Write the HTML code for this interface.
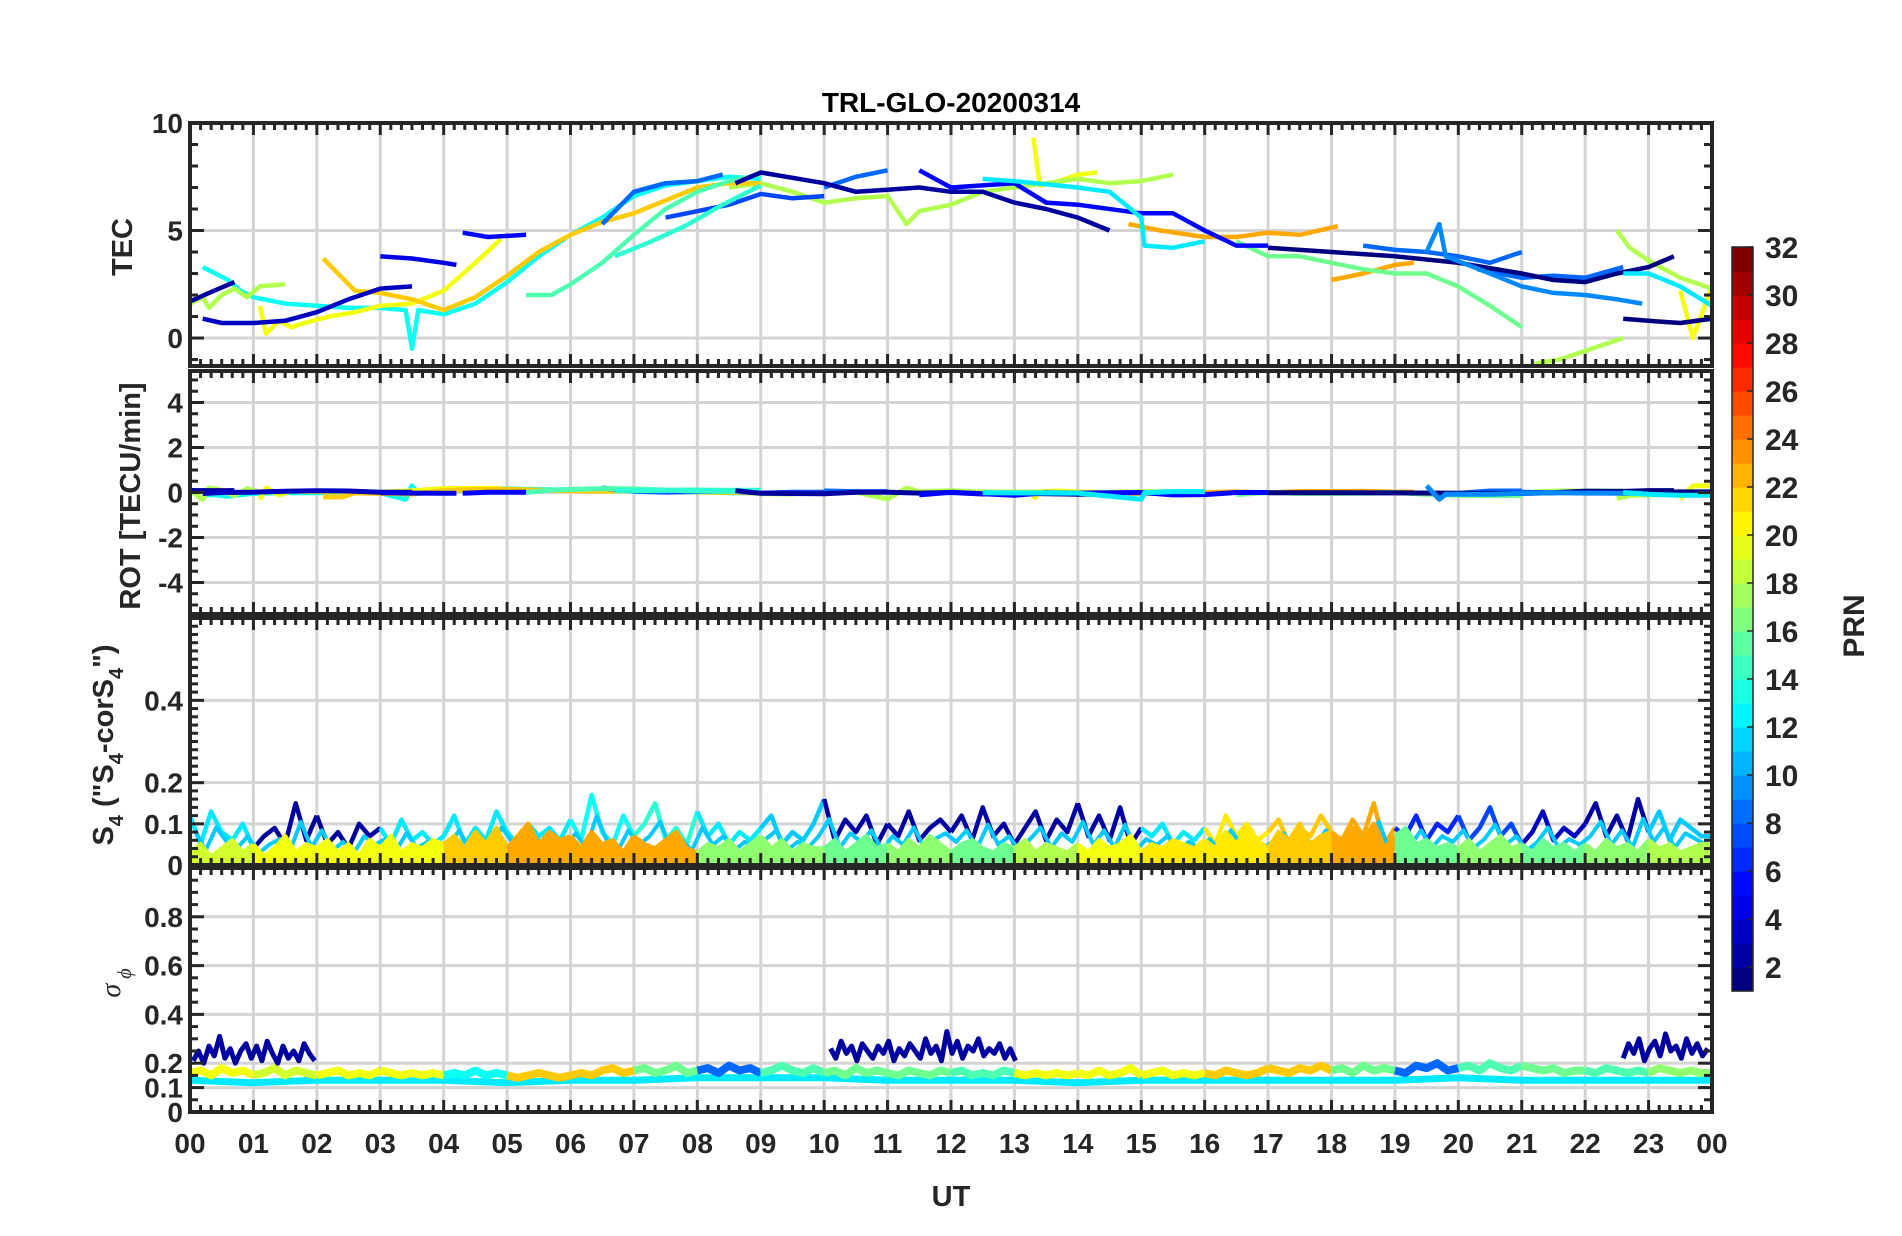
<!DOCTYPE html>
<html><head><meta charset="utf-8">
<style>
html,body{margin:0;padding:0;background:#fff;}
svg{display:block;font-family:"Liberation Sans",Arial,sans-serif;}
</style></head>
<body>
<svg id="fig" width="1902" height="1236" viewBox="0 0 1902 1236" xmlns="http://www.w3.org/2000/svg">
<rect x="0" y="0" width="1902" height="1236" fill="#fff"/>
<text x="951" y="112" text-anchor="middle" font-size="28" font-weight="bold" fill="#000">TRL-GLO-20200314</text>
<text transform="translate(132,247) rotate(-90)" text-anchor="middle" font-size="29" font-weight="bold" fill="#262626">TEC</text>
<text transform="translate(140,496) rotate(-90)" text-anchor="middle" font-size="29" font-weight="bold" fill="#262626">ROT [TECU/min]</text>
<text transform="translate(113,745) rotate(-90)" text-anchor="middle" font-size="29" font-weight="bold" fill="#262626">S<tspan font-size="20" dy="10">4</tspan><tspan dy="-10"> ("S</tspan><tspan font-size="20" dy="10">4</tspan><tspan dy="-10">-corS</tspan><tspan font-size="20" dy="10">4</tspan><tspan dy="-10">")</tspan></text>
<text transform="translate(120,983) rotate(-90)" text-anchor="middle" font-size="28" font-style="italic" font-family="Liberation Serif, serif" fill="#262626">σ<tspan font-size="20" dy="11"> ϕ</tspan></text>
<text x="951" y="1206" text-anchor="middle" font-size="29" font-weight="bold" fill="#262626">UT</text>
<text transform="translate(1864,626) rotate(-90)" text-anchor="middle" font-size="30" font-weight="bold" fill="#262626">PRN</text>
<g id="layer"></g>
</svg>
<script>
// ---------- data ----------
const hourTicks = ["00","01","02","03","04","05","06","07","08","09","10","11","12","13","14","15","16","17","18","19","20","21","22","23","00"];
const tecTicks = [0,5,10];
const rotTicks = [-4,-2,0,2,4];
const s4Ticks = [0,0.1,0.2,0.4];
const sigTicks = [0,0.1,0.2,0.4,0.6,0.8];
const cbTicks = [2,4,6,8,10,12,14,16,18,20,22,24,26,28,30,32];

// TEC tracks: PRN and [hour, TEC] pairs
const tecPrn = [13,20,20,20,18,18,18,18,22,23,23,8,8,8,8,7,15,14,16,2,2,3,4,5,5,12,1,1,9,12];
const tecPts = [
 [[0.2,3.3],[0.4,3.0],[0.6,2.7],[0.8,2.2],[1,1.9],[1.5,1.6],[2,1.5],[2.5,1.4],[3,1.4],[3.4,1.3],[3.5,-0.5],[3.6,1.3],[4,1.1],[4.5,1.6],[5,2.6],[5.5,3.8],[6,4.8],[6.5,5.6],[7,6.6],[7.5,7.1],[8,7.3],[8.5,7.5],[9,7.4]],
 [[1.1,1.5],[1.2,0.2],[1.4,0.8],[1.6,0.5],[1.8,0.7],[2.2,1.0],[2.6,1.2],[3,1.5],[3.5,1.6],[4,2.2],[4.5,3.5],[4.9,4.6]],
 [[13.3,9.3],[13.4,7.1],[13.7,7.3],[14,7.6],[14.3,7.7]],
 [[23.5,2.2],[23.7,0.0],[23.85,1.2],[24,2.5]],
 [[0,1.6],[0.2,1.9],[0.3,1.4],[0.5,2.0],[0.7,2.3],[0.9,1.9],[1.1,2.4],[1.5,2.5]],
 [[8.5,7.0],[9,7.2],[9.5,6.8],[10,6.3],[10.5,6.5],[11,6.6],[11.3,5.3],[11.5,5.9],[12,6.2],[12.5,6.8],[13,7.0],[13.5,7.2],[14,7.4],[14.5,7.2],[15,7.3],[15.5,7.6]],
 [[22.5,5.0],[22.7,4.2],[23,3.6],[23.5,2.8],[24,2.3]],
 [[21.2,-1.2],[21.6,-1.0],[22,-0.6],[22.6,0.0]],
 [[2.1,3.7],[2.4,2.8],[2.6,2.2],[3,2.1],[3.5,1.8],[4,1.3],[4.5,1.9],[5,2.9],[5.5,4.0],[6,4.8],[6.5,5.4],[7,5.8],[7.5,6.4],[8,7.0],[8.5,7.2],[9,7.2]],
 [[14.8,5.3],[15.3,5.0],[16,4.7],[16.5,4.7],[17,4.9],[17.5,4.8],[18.1,5.2]],
 [[18,2.7],[18.5,3.0],[19,3.4],[19.3,3.5]],
 [[6.5,5.3],[7,6.8],[7.5,7.2],[8,7.3],[8.4,7.6]],
 [[10,7.0],[10.5,7.5],[11,7.8]],
 [[18.5,4.3],[19,4.1],[19.5,4.0],[20,3.8],[20.5,3.5],[21,4.0]],
 [[20.3,3.2],[21,2.8],[21.5,2.9],[22,2.8],[22.6,3.3]],
 [[7.5,5.6],[8,5.9],[8.5,6.2],[9,6.7],[9.5,6.5],[10,6.6]],
 [[5.3,2.0],[5.7,2.0],[6,2.5],[6.5,3.5],[7,4.8],[7.5,6.0],[8,6.8],[8.5,7.3],[9,7.6]],
 [[6.7,3.8],[7.2,4.4],[7.8,5.2],[8.4,6.2],[9,7.1]],
 [[16.5,4.5],[17,3.8],[17.5,3.8],[18,3.5],[18.5,3.2],[19,3.0],[19.5,3.0],[20,2.4],[20.5,1.5],[21,0.5]],
 [[0,1.7],[0.3,2.1],[0.7,2.6]],
 [[8.6,7.2],[9,7.7],[10,7.2],[10.5,6.8],[11,6.9],[11.5,7.0],[12,6.8],[12.5,6.8],[13,6.3],[13.5,6.0],[14,5.6],[14.5,5.0]],
 [[0.2,0.9],[0.5,0.7],[1,0.7],[1.5,0.8],[2,1.2],[2.5,1.8],[3,2.3],[3.5,2.4]],
 [[3,3.8],[3.5,3.7],[4,3.5],[4.2,3.4]],
 [[4.3,4.9],[4.7,4.7],[5.3,4.8]],
 [[11.5,7.8],[12,7.0],[13,7.2],[13.5,6.3],[14,6.2],[15,5.8],[15.5,5.8],[16,5.0],[16.5,4.3],[17,4.3]],
 [[12.5,7.4],[13,7.3],[14,7.0],[14.5,6.8],[15,5.6],[15.05,4.3],[15.5,4.2],[16,4.5]],
 [[17,4.2],[18,4.0],[19,3.8],[20,3.5],[21,3.0],[21.5,2.7],[22,2.6],[22.5,3.0],[23,3.3],[23.4,3.8]],
 [[22.6,0.9],[23,0.8],[23.5,0.7],[24,0.9]],
 [[19.5,4.0],[19.7,5.3],[19.8,3.8],[20.5,3.0],[21,2.4],[21.5,2.1],[22,2.0],[22.5,1.8],[22.9,1.6]],
 [[22.6,3.0],[23,3.0],[23.5,2.4],[24,1.5]]
];

// S4 (10-min samples, 144 per layer)
const s4High = [
 0.12,0.05,0.13,0.08,0.06,0.10,0.04,0.07,0.09,0.05,0.15,0.06,
 0.12,0.05,0.08,0.04,0.10,0.07,0.09,0.05,0.11,0.06,0.08,0.05,
 0.07,0.12,0.05,0.09,0.06,0.13,0.08,0.05,0.10,0.07,0.09,0.06,
 0.11,0.06,0.17,0.08,0.05,0.12,0.07,0.10,0.15,0.06,0.09,0.05,
 0.13,0.07,0.10,0.05,0.08,0.06,0.09,0.12,0.05,0.08,0.06,0.10,
 0.16,0.06,0.11,0.08,0.12,0.05,0.10,0.07,0.13,0.06,0.09,0.11,
 0.08,0.12,0.06,0.14,0.07,0.10,0.05,0.09,0.13,0.06,0.11,0.08,
 0.15,0.07,0.12,0.06,0.14,0.05,0.09,0.07,0.10,0.05,0.08,0.06,
 0.09,0.05,0.12,0.07,0.10,0.06,0.08,0.11,0.05,0.09,0.07,0.12,
 0.08,0.06,0.11,0.07,0.15,0.05,0.09,0.07,0.12,0.06,0.10,0.08,
 0.12,0.06,0.09,0.14,0.07,0.10,0.05,0.08,0.13,0.06,0.09,0.07,
 0.10,0.15,0.07,0.12,0.06,0.16,0.08,0.13,0.06,0.11,0.09,0.07];
const s4Low = [
 0.03,0.05,0.02,0.04,0.06,0.03,0.05,0.02,0.04,0.07,0.03,0.05,
 0.04,0.06,0.03,0.05,0.02,0.06,0.04,0.07,0.03,0.05,0.04,0.06,
 0.05,0.07,0.04,0.08,0.05,0.09,0.04,0.07,0.10,0.05,0.08,0.06,
 0.07,0.04,0.08,0.05,0.06,0.03,0.07,0.05,0.04,0.06,0.08,0.04,
 0.03,0.05,0.04,0.06,0.03,0.05,0.07,0.04,0.06,0.03,0.05,0.04,
 0.04,0.06,0.03,0.05,0.07,0.04,0.05,0.03,0.06,0.04,0.07,0.05,
 0.03,0.05,0.06,0.04,0.03,0.05,0.04,0.06,0.03,0.05,0.04,0.03,
 0.05,0.03,0.06,0.04,0.05,0.07,0.03,0.05,0.04,0.06,0.05,0.04,
 0.06,0.04,0.08,0.05,0.09,0.06,0.04,0.08,0.06,0.10,0.05,0.07,
 0.08,0.05,0.09,0.06,0.10,0.04,0.07,0.09,0.05,0.06,0.04,0.05,
 0.04,0.06,0.03,0.05,0.07,0.04,0.05,0.03,0.06,0.04,0.05,0.03,
 0.05,0.03,0.06,0.04,0.05,0.03,0.06,0.04,0.05,0.03,0.04,0.05];
const s4HighPrn = [12,2,2,12,12,12,13,14,12,11,2,2,2,2,2,12,21,22,23,6,7,3,2,11];
const s4LowPrn  = [19,20,20,20,22,23,23,23,17,17,16,17,16,18,20,21,21,22,23,16,17,16,17,18];

// sigma_phi
const sigMid = [
 0.16,0.17,0.15,0.18,0.16,0.17,0.15,0.16,0.18,0.15,0.17,0.16,
 0.15,0.16,0.17,0.15,0.16,0.15,0.17,0.16,0.15,0.16,0.15,0.16,
 0.15,0.16,0.15,0.17,0.15,0.16,0.15,0.14,0.15,0.16,0.15,0.14,
 0.15,0.16,0.15,0.17,0.18,0.16,0.17,0.18,0.16,0.17,0.19,0.16,
 0.17,0.18,0.16,0.19,0.17,0.18,0.16,0.17,0.19,0.17,0.16,0.18,
 0.16,0.17,0.15,0.18,0.16,0.17,0.16,0.15,0.17,0.16,0.15,0.17,
 0.16,0.17,0.15,0.16,0.15,0.17,0.16,0.15,0.16,0.15,0.16,0.15,
 0.16,0.15,0.17,0.15,0.16,0.18,0.15,0.16,0.17,0.15,0.16,0.15,
 0.16,0.15,0.17,0.16,0.15,0.16,0.18,0.17,0.16,0.18,0.17,0.19,
 0.17,0.18,0.16,0.19,0.17,0.18,0.17,0.16,0.19,0.18,0.20,0.17,
 0.18,0.19,0.17,0.20,0.18,0.17,0.19,0.18,0.17,0.18,0.16,0.17,
 0.17,0.16,0.18,0.17,0.16,0.17,0.16,0.18,0.17,0.16,0.17,0.16];
const sigMidPrn = [20,19,20,20,13,22,22,16,8,15,16,16,15,20,20,20,22,22,16,8,15,16,15,17];
const sigLow = [0.13,0.12,0.13,0.13,0.13,0.12,0.13,0.13,0.14,0.14,0.14,0.13,0.13,0.13,0.12,0.13,0.13,0.13,0.13,0.13,0.14,0.13,0.13,0.13,0.13];
const sigNavyStart = [0.05,10.1,22.6];
const sigNavyVals = [
 [0.21,0.25,0.20,0.27,0.23,0.31,0.22,0.26,0.20,0.25,0.28,0.22,0.27,0.21,0.29,0.24,0.20,0.27,0.22,0.25,0.21,0.28,0.24,0.21],
 [0.26,0.22,0.29,0.24,0.27,0.21,0.28,0.25,0.22,0.27,0.24,0.29,0.21,0.26,0.23,0.28,0.25,0.22,0.30,0.24,0.27,0.21,0.33,0.24,0.29,0.22,0.27,0.25,0.30,0.23,0.26,0.24,0.28,0.22,0.26,0.21],
 [0.22,0.28,0.24,0.30,0.21,0.26,0.29,0.23,0.32,0.25,0.27,0.22,0.30,0.24,0.28,0.23,0.26]];

// ---------- layout ----------
const X0 = 190, X1 = 1712;
const panels = {
  tec: {top:123, bottom:366, min:-1.3, max:10},
  rot: {top:371, bottom:614, min:-5.4, max:5.4},
  s4:  {top:618, bottom:865, min:0, max:0.6},
  sig: {top:868, bottom:1112, min:0, max:1}
};
const NS = "http://www.w3.org/2000/svg";
const layer = document.getElementById('layer');
function xs(h){ return X0 + (X1-X0)*h/24; }
function ys(p,v){ return p.bottom - (v-p.min)/(p.max-p.min)*(p.bottom-p.top); }
function jet(t){
  const c = x => Math.round(255*Math.max(0,Math.min(1,x)));
  return `rgb(${c(1.5-Math.abs(4*t-3))},${c(1.5-Math.abs(4*t-2))},${c(1.5-Math.abs(4*t-1))})`;
}
function prnColor(p){ return jet((p-1)/31); }
function mk(tag, attrs, parent){
  const e = document.createElementNS(NS, tag);
  for (const k in attrs) e.setAttribute(k, attrs[k]);
  (parent||layer).appendChild(e);
  return e;
}

const defs = mk('defs',{});
for (const key in panels){
  const p = panels[key];
  const cp = mk('clipPath',{id:'clip-'+key},defs);
  mk('rect',{x:X0,y:p.top,width:X1-X0,height:p.bottom-p.top},cp);
}

function drawPanel(key, yTicks, name){
  const p = panels[key];
  const g = mk('g',{});
  
  
  for (let h=1; h<24; h++){
    const gl = mk('line',{x1:xs(h),x2:xs(h),y1:p.top,y2:p.bottom,stroke:'#d4d4d4','stroke-width':3},g);
    
    
  }
  yTicks.forEach(v=>{
    if (v<=p.min || v>=p.max) return;
    const gl = mk('line',{x1:X0,x2:X1,y1:ys(p,v),y2:ys(p,v),stroke:'#d4d4d4','stroke-width':3},g);
    
    
  });
}
function drawFrame(key, yTicks, minorStep, name, fmt){
  const p = panels[key];
  const g = mk('g',{});
  const col = '#262626';
  for (let i=0;i<=144;i++){
    const x = xs(i/6), major = i%6===0, L = major?12:7;
    mk('line',{x1:x,x2:x,y1:p.top,y2:p.top+L,stroke:col,'stroke-width':3},g);
    mk('line',{x1:x,x2:x,y1:p.bottom,y2:p.bottom-L,stroke:col,'stroke-width':3},g);
  }
  for (let v=Math.ceil(p.min/minorStep)*minorStep; v<=p.max+1e-9; v+=minorStep){
    const y = ys(p,v);
    const major = yTicks.some(t=>Math.abs(t-v)<1e-6);
    const L = major?14:8;
    mk('line',{x1:X0,x2:X0+L,y1:y,y2:y,stroke:col,'stroke-width':3},g);
    mk('line',{x1:X1,x2:X1-L,y1:y,y2:y,stroke:col,'stroke-width':3},g);
  }
  const fr = mk('rect',{x:X0,y:p.top,width:X1-X0,height:p.bottom-p.top,fill:'none',stroke:col,'stroke-width':4},g);
  
  
  yTicks.forEach(v=>{
    const t = mk('text',{x:X0-7,y:ys(p,v)+10,'text-anchor':'end','font-size':28,'font-weight':'bold',fill:col},g);
    t.textContent = fmt(v);
    
    
  });
}

function line(pts, color, key, width, name){
  const p = panels[key];
  const d = pts.map((q,i)=>(i?'L':'M')+xs(q[0]).toFixed(1)+' '+ys(p,q[1]).toFixed(1)).join('');
  const e = mk('path',{d:d,fill:'none',stroke:color,'stroke-width':width,'stroke-linejoin':'round','clip-path':'url(#clip-'+key+')'});
  
  
  return e;
}
function area(pts, color, key, name){
  const p = panels[key];
  let d = 'M'+xs(pts[0][0]).toFixed(1)+' '+ys(p,0).toFixed(1);
  pts.forEach(q=>{ d += 'L'+xs(q[0]).toFixed(1)+' '+ys(p,q[1]).toFixed(1); });
  d += 'L'+xs(pts[pts.length-1][0]).toFixed(1)+' '+ys(p,0).toFixed(1)+'Z';
  const e = mk('path',{d:d,fill:color,stroke:'none','clip-path':'url(#clip-'+key+')'});
  
  
}

drawPanel('tec', tecTicks, 'tec');
drawPanel('rot', rotTicks, 'rot');
drawPanel('s4', s4Ticks, 's4');
drawPanel('sig', sigTicks, 'sigma');

// TEC + ROT
tecPts.forEach((pts,i)=>{
  line(pts, prnColor(tecPrn[i]), 'tec', 4.5, 'tec-series-prn'+tecPrn[i]);
  const rot = pts.map((q,j)=>{
    const k = Math.min(j+1, pts.length-1), m = Math.max(k-1,0);
    const dt = (pts[k][0]-pts[m][0])*60 || 1;
    const r = (pts[k][1]-pts[m][1])/dt*4;
    return [q[0], Math.max(-0.3, Math.min(0.3, r))];
  });
  line(rot, prnColor(tecPrn[i]), 'rot', 5, 'rot-series-prn'+tecPrn[i]);
});

function hourChunks(vals, prns, key, width, name, fill){
  for (let h=0; h<24; h++){
    const pts=[];
    for (let j=h*6; j<=Math.min(h*6+6, vals.length-1); j++) pts.push([j/6, vals[j]]);
    if (h===23) pts.push([24, vals[vals.length-1]]);
    if (fill) area(pts, prnColor(prns[h]), key, name+'-area-prn'+prns[h]);
    line(pts, prnColor(prns[h]), key, width, name+'-prn'+prns[h]);
  }
}
hourChunks(s4High, s4HighPrn, 's4', 4.5, 's4-high', false);
line(s4High.map((v,i)=>[i/6+0.08, v*0.7]), prnColor(11), 's4', 4, 's4-cyan-base');
hourChunks(s4Low, s4LowPrn, 's4', 4.5, 's4-low', true);

// sigma
line(sigLow.map((v,i)=>[i, v]), prnColor(12), 'sig', 7, 'sigma-low-prn12');
hourChunks(sigMid, sigMidPrn, 'sig', 8, 'sigma-mid', false);
sigNavyVals.forEach((vals,k)=>{
  line(vals.map((v,i)=>[sigNavyStart[k]+i/12, v]), prnColor(2), 'sig', 5, 'sigma-high-prn2');
});

drawFrame('tec', tecTicks, 1, 'tec', v=>String(v));
drawFrame('rot', rotTicks, 0.5, 'rot', v=>String(v));
drawFrame('s4', s4Ticks, 0.02, 's4', v=>String(v));
drawFrame('sig', sigTicks, 0.05, 'sigma', v=>String(v));

hourTicks.forEach((lab,i)=>{
  const t = mk('text',{x:xs(i),y:1153,'text-anchor':'middle','font-size':28,'font-weight':'bold',fill:'#262626'});
  t.textContent = lab;
  
  
});

// colorbar
const CB = {x:1732, w:21, top:247, bottom:991, min:1, max:32};
function cby(v){ return CB.bottom - (v-CB.min)/(CB.max-CB.min)*(CB.bottom-CB.top); }
for (let i=0;i<31;i++){
  const r = mk('rect',{x:CB.x,y:cby(i+2),width:CB.w,height:cby(i+1)-cby(i+2)+0.6,fill:jet(i/30)});
  
  
}
const cbf = mk('rect',{x:CB.x,y:CB.top,width:CB.w,height:CB.bottom-CB.top,fill:'none',stroke:'#262626','stroke-width':1.5});


cbTicks.forEach(v=>{
  mk('line',{x1:CB.x+CB.w-6,x2:CB.x+CB.w,y1:cby(v),y2:cby(v),stroke:'#262626','stroke-width':1.5});
  const t = mk('text',{x:1765,y:cby(v)+11,'font-size':30,'font-weight':'bold',fill:'#262626'});
  t.textContent = String(v);
  
  
});
</script>
</body></html>
